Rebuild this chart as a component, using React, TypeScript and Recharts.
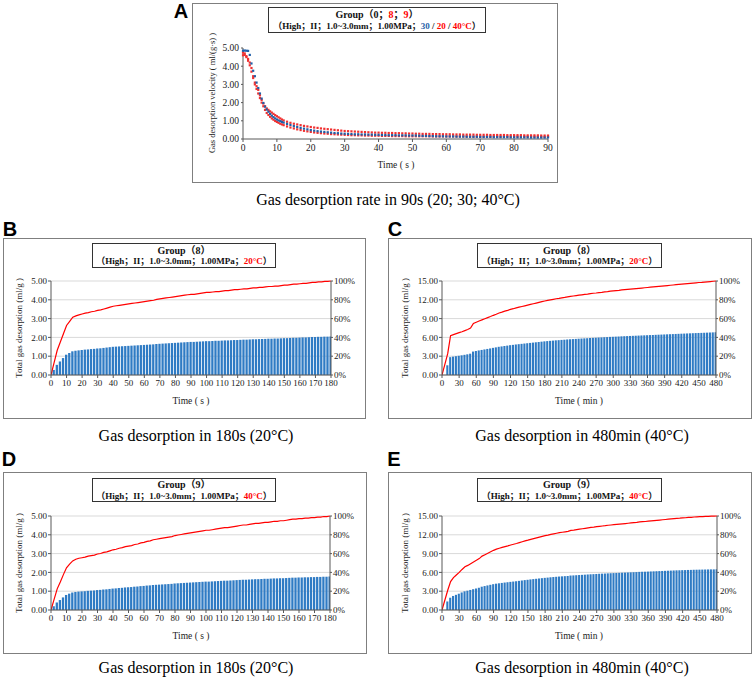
import React from 'react';
import { ComposedChart, Bar, Line, XAxis, YAxis, CartesianGrid, ScatterChart, Scatter } from 'recharts';

const SERIF = '"Liberation Serif", "Times New Roman", "Noto Sans CJK SC", serif';
const SANS = '"Liberation Sans", Arial, sans-serif';

// ---------- Panel A : desorption velocity (ml/(g·s)) ----------
const timeA = [0, 0.5, 1, 1.5, 2, 2.5, 3, 3.5, 4, 4.5, 5, 5.5, 6, 6.5, 7, 7.5, 8, 8.5, 9, 9.5, 10, 10.5, 11, 11.5, 12,
  13, 14, 15, 16, 17, 18, 19, 20, 21, 22, 23, 24, 25, 26, 27, 28, 29, 30, 31, 32, 33, 34, 35, 36, 37, 38, 39, 40,
  41, 42, 43, 44, 45, 46, 47, 48, 49, 50, 51, 52, 53, 54, 55, 56, 57, 58, 59, 60, 61, 62, 63, 64, 65, 66, 67, 68,
  69, 70, 71, 72, 73, 74, 75, 76, 77, 78, 79, 80, 81, 82, 83, 84, 85, 86, 87, 88, 89, 90];
const velocity30 = [4.85, 4.86, 4.85, 4.84, 4.62, 4.15, 3.75, 3.45, 3.1, 2.8, 2.5, 2.22, 1.98, 1.78, 1.62, 1.5, 1.38, 1.28, 1.2, 1.13, 1.07, 1.02, 0.98, 0.94, 0.9,
  0.83, 0.77, 0.71, 0.66, 0.61, 0.57, 0.53, 0.49, 0.46, 0.43,
  0.41, 0.39, 0.37, 0.35, 0.33, 0.32, 0.3, 0.29, 0.28, 0.27,
  0.26, 0.26, 0.25, 0.25, 0.24, 0.24, 0.23, 0.23, 0.22, 0.22,
  0.21, 0.21, 0.21, 0.2, 0.2, 0.2, 0.19, 0.19, 0.19, 0.18,
  0.17, 0.17, 0.16, 0.16, 0.15, 0.15, 0.15, 0.14, 0.14, 0.14,
  0.13, 0.13, 0.13, 0.12, 0.12, 0.12, 0.12, 0.11, 0.11, 0.11,
  0.11, 0.1, 0.1, 0.1, 0.1, 0.1, 0.09, 0.09, 0.09, 0.09,
  0.09, 0.09, 0.08, 0.08, 0.08, 0.08, 0.08, 0.08];
const velocity20 = [4.75, 4.7, 4.55, 4.4, 4.2, 3.9, 3.45, 3.1, 2.9, 2.7, 2.4, 2.15, 1.95, 1.8, 1.68, 1.6, 1.52, 1.45, 1.38, 1.31, 1.25, 1.19, 1.13, 1.07, 1.02,
  0.95, 0.89, 0.84, 0.8, 0.76, 0.72, 0.69, 0.66, 0.63, 0.61,
  0.58, 0.56, 0.54, 0.52, 0.5, 0.48, 0.46, 0.44, 0.43, 0.42,
  0.41, 0.4, 0.39, 0.38, 0.37, 0.36, 0.35, 0.35, 0.34, 0.34,
  0.33, 0.33, 0.32, 0.32, 0.31, 0.31, 0.3, 0.3, 0.29, 0.29,
  0.28, 0.28, 0.28, 0.27, 0.27, 0.27, 0.26, 0.26, 0.26, 0.25,
  0.25, 0.25, 0.24, 0.24, 0.24, 0.24, 0.23, 0.23, 0.23, 0.23,
  0.22, 0.22, 0.22, 0.22, 0.22, 0.21, 0.21, 0.21, 0.21, 0.21,
  0.2, 0.2, 0.2, 0.2, 0.2, 0.19, 0.19, 0.19];
const velocity40 = [4.6, 4.62, 4.5, 4.3, 4.05, 3.7, 3.35, 3.0, 2.75, 2.5, 2.25, 2.0, 1.8, 1.6, 1.43, 1.32, 1.22, 1.13, 1.06, 0.99, 0.94, 0.89, 0.84, 0.8, 0.76,
  0.69, 0.63, 0.58, 0.53, 0.49, 0.45, 0.42, 0.39, 0.36, 0.34,
  0.32, 0.3, 0.29, 0.27, 0.26, 0.25, 0.24, 0.23, 0.22, 0.21,
  0.21, 0.2, 0.2, 0.19, 0.19, 0.18, 0.18, 0.18, 0.17, 0.17,
  0.17, 0.16, 0.16, 0.16, 0.16, 0.15, 0.15, 0.15, 0.15, 0.15,
  0.15, 0.15, 0.15, 0.14, 0.14, 0.14, 0.14, 0.14, 0.14, 0.14,
  0.14, 0.14, 0.14, 0.14, 0.14, 0.13, 0.13, 0.13, 0.13, 0.13,
  0.13, 0.13, 0.13, 0.13, 0.13, 0.13, 0.13, 0.13, 0.13, 0.13,
  0.13, 0.13, 0.13, 0.13, 0.12, 0.12, 0.12, 0.12];
const ticksA = [0, 10, 20, 30, 40, 50, 60, 70, 80, 90];
const velTicks = [0, 1, 2, 3, 4, 5];

// ---------- Panels B/D : 180 s ----------
const timeSec = [2, 4, 6, 8, 10, 12, 14, 16, 18, 20, 22, 24, 26, 28, 30, 32, 34, 36, 38, 40, 42, 44, 46, 48, 50, 52, 54, 56, 58, 60,
  62, 64, 66, 68, 70, 72, 74, 76, 78, 80, 82, 84, 86, 88, 90, 92, 94, 96, 98, 100, 102, 104, 106, 108, 110, 112, 114, 116, 118, 120,
  122, 124, 126, 128, 130, 132, 134, 136, 138, 140, 142, 144, 146, 148, 150, 152, 154, 156, 158, 160, 162, 164, 166, 168, 170, 172, 174, 176, 178, 180];
const totalB = [0.27, 0.54, 0.72, 0.9, 1.08, 1.17, 1.26, 1.29, 1.31, 1.33,
  1.35, 1.36, 1.38, 1.39, 1.41, 1.42, 1.44, 1.46, 1.48, 1.5,
  1.51, 1.52, 1.53, 1.54, 1.55, 1.56, 1.57, 1.58, 1.59, 1.6,
  1.61, 1.62, 1.63, 1.65, 1.66, 1.67, 1.68, 1.69, 1.7, 1.71,
  1.72, 1.73, 1.74, 1.75, 1.76, 1.76, 1.77, 1.78, 1.79, 1.8,
  1.8, 1.81, 1.82, 1.82, 1.83, 1.84, 1.84, 1.85, 1.86, 1.86,
  1.87, 1.88, 1.88, 1.89, 1.9, 1.9, 1.91, 1.91, 1.92, 1.93,
  1.93, 1.94, 1.94, 1.95, 1.96, 1.96, 1.97, 1.98, 1.98, 1.99,
  2.0, 2.0, 2.01, 2.02, 2.02, 2.03, 2.03, 2.04, 2.04, 2.05];
const totalD = [0.2, 0.4, 0.53, 0.67, 0.8, 0.87, 0.93, 0.96, 0.98, 0.99,
  1.0, 1.02, 1.03, 1.04, 1.06, 1.07, 1.09, 1.1, 1.12, 1.14,
  1.15, 1.17, 1.18, 1.2, 1.21, 1.22, 1.24, 1.25, 1.27, 1.28,
  1.3, 1.31, 1.33, 1.34, 1.35, 1.36, 1.37, 1.38, 1.39, 1.41,
  1.42, 1.43, 1.44, 1.45, 1.46, 1.47, 1.48, 1.49, 1.5, 1.51,
  1.51, 1.52, 1.53, 1.54, 1.55, 1.56, 1.56, 1.57, 1.58, 1.59,
  1.6, 1.61, 1.61, 1.62, 1.63, 1.64, 1.64, 1.65, 1.66, 1.66,
  1.67, 1.68, 1.68, 1.69, 1.69, 1.7, 1.71, 1.72, 1.72, 1.73,
  1.73, 1.74, 1.74, 1.75, 1.75, 1.76, 1.76, 1.77, 1.77, 1.78];
const ticksSec = [0, 10, 20, 30, 40, 50, 60, 70, 80, 90, 100, 110, 120, 130, 140, 150, 160, 170, 180];
const ticks5 = [0, 1, 2, 3, 4, 5];

// ---------- Panels C/E : 480 min ----------
const timeMin = [10, 15, 20, 25, 30, 35, 40, 45, 50, 55, 60, 65, 70, 75, 80, 85, 90, 95, 100, 105,
  110, 115, 120, 125, 130, 135, 140, 145, 150, 155, 160, 165, 170, 175, 180, 185, 190, 195, 200, 205,
  210, 215, 220, 225, 230, 235, 240, 245, 250, 255, 260, 265, 270, 275, 280, 285, 290, 295, 300, 305,
  310, 315, 320, 325, 330, 335, 340, 345, 350, 355, 360, 365, 370, 375, 380, 385, 390, 395, 400, 405,
  410, 415, 420, 425, 430, 435, 440, 445, 450, 455, 460, 465, 470, 475, 480];
const totalC = [1.55, 2.85, 2.93, 3.0, 3.07, 3.14, 3.22, 3.3, 3.4, 3.74,
  3.83, 3.92, 4.0, 4.08, 4.16, 4.24, 4.33, 4.41, 4.5, 4.56,
  4.63, 4.69, 4.76, 4.81, 4.87, 4.92, 4.97, 5.02, 5.07, 5.12,
  5.17, 5.22, 5.27, 5.32, 5.37, 5.41, 5.45, 5.49, 5.53, 5.56,
  5.6, 5.63, 5.67, 5.7, 5.73, 5.76, 5.79, 5.82, 5.85, 5.87,
  5.9, 5.93, 5.95, 5.98, 6.0, 6.03, 6.05, 6.08, 6.1, 6.12,
  6.14, 6.17, 6.19, 6.21, 6.23, 6.25, 6.27, 6.29, 6.31, 6.33,
  6.35, 6.37, 6.39, 6.41, 6.43, 6.45, 6.47, 6.49, 6.51, 6.53,
  6.55, 6.57, 6.59, 6.61, 6.63, 6.65, 6.67, 6.69, 6.71, 6.72,
  6.74, 6.76, 6.78, 6.8, 6.82];
const totalE = [1.36, 1.96, 2.24, 2.42, 2.6, 2.8, 2.98, 3.08, 3.2, 3.32,
  3.43, 3.55, 3.72, 3.82, 3.92, 4.02, 4.12, 4.2, 4.26, 4.32,
  4.38, 4.43, 4.49, 4.54, 4.59, 4.65, 4.71, 4.77, 4.82, 4.88,
  4.93, 4.98, 5.03, 5.08, 5.13, 5.17, 5.22, 5.26, 5.3, 5.34,
  5.37, 5.4, 5.43, 5.5, 5.52, 5.55, 5.58, 5.61, 5.64, 5.67,
  5.7, 5.72, 5.75, 5.78, 5.8, 5.82, 5.85, 5.87, 5.89, 5.91,
  5.93, 5.95, 5.97, 5.99, 6.01, 6.03, 6.05, 6.08, 6.1, 6.11,
  6.13, 6.15, 6.17, 6.19, 6.21, 6.23, 6.25, 6.27, 6.29, 6.31,
  6.33, 6.34, 6.36, 6.37, 6.39, 6.4, 6.42, 6.43, 6.44, 6.45,
  6.46, 6.47, 6.48, 6.48, 6.49];
const ticksMin = [0, 30, 60, 90, 120, 150, 180, 210, 240, 270, 300, 330, 360, 390, 420, 450, 480];
const ticks15 = [0, 3, 6, 9, 12, 15];
const pctTicks = [0, 20, 40, 60, 80, 100];

const BLUE = '#1f5fa8';
const RED = '#ff0000';
const AXIS = { stroke: '#595959', strokeWidth: 1 };
const tickFont = { fontSize: 9, fill: '#1a1a1a', fontFamily: SERIF };

type TxtProps = { x: number; y: number; size?: number; bold?: boolean; rot?: number; family?: string; color?: string; children: React.ReactNode };
const Txt = ({ x, y, size = 9, bold = false, rot = 0, family = SERIF, color = '#222', children }: TxtProps) => (
  <div style={{ position: 'absolute', left: x, top: y, transform: `translate(-50%,-50%) rotate(${rot}deg)`, fontSize: size, fontWeight: bold ? 700 : 400, fontFamily: family, color, whiteSpace: 'nowrap', lineHeight: 1 }}>{children}</div>
);

const Frame = ({ l, t, r, b }: { l: number; t: number; r: number; b: number }) => (
  <div style={{ position: 'absolute', left: l, top: t, width: r - l, height: b - t, border: '1.3px solid #7f7f7f', boxSizing: 'border-box' }} />
);

const LegendBox = ({ l, t, r, b, line1, line2, s1 = 10 }: { l: number; t: number; r: number; b: number; line1: React.ReactNode; line2: React.ReactNode; s1?: number }) => (
  <div style={{ position: 'absolute', left: l, top: t, width: r - l, height: b - t, border: '1.3px solid #333', boxSizing: 'border-box', background: '#fff', display: 'flex', flexDirection: 'column', alignItems: 'center', justifyContent: 'center', fontFamily: SERIF, fontWeight: 700, color: '#111', lineHeight: 1.15 }}>
    <div style={{ fontSize: s1 }}>{line1}</div>
    <div style={{ fontSize: 9 }}>{line2}</div>
  </div>
);

const R = ({ children }: { children: React.ReactNode }) => <span style={{ color: RED }}>{children}</span>;
const B = ({ children }: { children: React.ReactNode }) => <span style={{ color: BLUE }}>{children}</span>;

type PanelProps = { px: number; py: number; pw: number; ph: number; times: number[]; values: number[]; xMax: number; xTicks: number[]; yMax: number; yTicks: number[]; barSize: number };

function GasPanel({ px, py, pw, ph, times, values, xMax, xTicks, yMax, yTicks, barSize }: PanelProps) {
  const last = values[values.length - 1];
  const data = [{ t: 0, v: 0, pct: 0 }, ...times.map((t, i) => ({ t, v: values[i], pct: (values[i] / last) * 100 }))];
  const wl = 46, wr = 34, mt = 8, xh = 24, mr = 4;
  return (
    <div style={{ position: 'absolute', left: px - wl, top: py - mt }}>
      <ComposedChart width={wl + pw + wr + mr} height={mt + ph + xh} data={data} margin={{ top: mt, right: mr, bottom: 0, left: 0 }}>
        <CartesianGrid yAxisId="l" vertical={false} stroke="#d9d9d9" />
        <XAxis dataKey="t" type="number" domain={[0, xMax]} ticks={xTicks} interval={0} height={xh} tickSize={3} tickMargin={2} tick={tickFont} axisLine={AXIS} tickLine={AXIS} allowDataOverflow />
        <YAxis yAxisId="l" type="number" domain={[0, yMax]} ticks={yTicks} interval={0} width={wl} tickSize={3} tickMargin={1} tick={tickFont} axisLine={AXIS} tickLine={AXIS} tickFormatter={(v: number) => v.toFixed(2)} />
        <YAxis yAxisId="r" orientation="right" type="number" domain={[0, 100]} ticks={pctTicks} interval={0} width={wr} tickSize={2} tickMargin={1} tick={tickFont} axisLine={AXIS} tickLine={AXIS} tickFormatter={(v: number) => `${v}%`} />
        <Bar yAxisId="l" dataKey="v" fill="#2f7bc4" barSize={barSize} isAnimationActive={false} />
        <Line yAxisId="r" dataKey="pct" type="linear" stroke={RED} strokeWidth={1.2} dot={false} activeDot={false} isAnimationActive={false} />
      </ComposedChart>
    </div>
  );
}

const sq = (color: string) => (p: any) => <rect x={p.cx - 1.1} y={p.cy - 1.1} width={2.2} height={2.2} fill={color} />;

function VelocityPanel() {
  const px = 243, py = 48, pw = 305, ph = 91;
  const wl = 38, mt = 6, xh = 22, mr = 8;
  const s30 = timeA.map((t, i) => ({ t, v: velocity30[i] }));
  const s20 = timeA.map((t, i) => ({ t, v: velocity20[i] }));
  const s40 = timeA.map((t, i) => ({ t, v: velocity40[i] }));
  return (
    <div style={{ position: 'absolute', left: px - wl, top: py - mt }}>
      <ScatterChart width={wl + pw + mr} height={mt + ph + xh} margin={{ top: mt, right: mr, bottom: 0, left: 0 }}>
        <XAxis dataKey="t" type="number" domain={[0, 90]} ticks={ticksA} interval={0} height={xh} tickSize={3} tickMargin={2} tick={{ ...tickFont, fontSize: 9.5 }} axisLine={AXIS} tickLine={AXIS} />
        <YAxis dataKey="v" type="number" domain={[0, 5]} ticks={velTicks} interval={0} width={wl} tickSize={2} tickMargin={2} tick={{ ...tickFont, fontSize: 9.5 }} axisLine={AXIS} tickLine={AXIS} tickFormatter={(v: number) => v.toFixed(2)} />
        <Scatter data={s20} shape={sq('#f03030')} isAnimationActive={false} />
        <Scatter data={s40} shape={sq('#f03030')} isAnimationActive={false} />
        <Scatter data={s30} shape={sq(BLUE)} isAnimationActive={false} />
      </ScatterChart>
    </div>
  );
}

const line2Base = '（High；II；1.0~3.0mm；1.00MPa；';

export default function App() {
  return (
    <div style={{ position: 'absolute', left: 0, top: 0, width: 754, height: 678, background: '#fff', overflow: 'hidden' }}>
      {/* Panel A */}
      <Frame l={192} t={3} r={558} b={183} />
      <Txt x={181} y={11} size={20} bold family={SANS} color="#000">A</Txt>
      <VelocityPanel />
      <LegendBox l={268} t={7} r={486} b={33} s1={10}
        line1={<>Group（0；<R>8</R>；<R>9</R>）</>}
        line2={<>{line2Base}<B>30</B> / <R>20</R> / <R>40°C</R>）</>} />
      <Txt x={212} y={93} size={8.5} rot={-90}>Gas desorption velocity ( ml/(g·s) )</Txt>
      <Txt x={396} y={166} size={9.5}>Time ( s )</Txt>
      <Txt x={388} y={200} size={16} color="#000">Gas desorption rate in 90s (20; 30; 40°C)</Txt>

      {/* Panel B */}
      <Frame l={3} t={238} r={366} b={419} />
      <Txt x={10} y={229} size={20} bold family={SANS} color="#000">B</Txt>
      <GasPanel px={51} py={281} pw={280} ph={94} times={timeSec} values={totalB} xMax={180} xTicks={ticksSec} yMax={5} yTicks={ticks5} barSize={2.3} />
      <LegendBox l={92} t={243} r={276} b={268} line1={<>Group（8）</>} line2={<>{line2Base}<R>20°C</R>）</>} />
      <Txt x={19} y={328} size={9} rot={-90}>Total gas desorption (ml/g )</Txt>
      <Txt x={191} y={402} size={9.5}>Time ( s )</Txt>
      <Txt x={196} y={436} size={16} color="#000">Gas desorption in 180s (20°C)</Txt>

      {/* Panel C */}
      <Frame l={388} t={238} r={752} b={419} />
      <Txt x={395} y={229} size={20} bold family={SANS} color="#000">C</Txt>
      <GasPanel px={442} py={281} pw={274} ph={94} times={timeMin} values={totalC} xMax={480} xTicks={ticksMin} yMax={15} yTicks={ticks15} barSize={2.1} />
      <LegendBox l={477} t={243} r={662} b={268} line1={<>Group（8）</>} line2={<>{line2Base}<R>20°C</R>）</>} />
      <Txt x={405} y={328} size={9} rot={-90}>Total gas desorption (ml/g )</Txt>
      <Txt x={579} y={402} size={9.5}>Time ( min )</Txt>
      <Txt x={582} y={436} size={16} color="#000">Gas desorption in 480min (40°C)</Txt>

      {/* Panel D */}
      <Frame l={3} t={472} r={367} b={654} />
      <Txt x={9} y={459} size={20} bold family={SANS} color="#000">D</Txt>
      <GasPanel px={51} py={516} pw={279} ph={94} times={timeSec} values={totalD} xMax={180} xTicks={ticksSec} yMax={5} yTicks={ticks5} barSize={2.3} />
      <LegendBox l={92} t={478} r={276} b={502} line1={<>Group（9）</>} line2={<>{line2Base}<R>40°C</R>）</>} />
      <Txt x={19} y={563} size={9} rot={-90}>Total gas desorption (ml/g )</Txt>
      <Txt x={191} y={637} size={9.5}>Time ( s )</Txt>
      <Txt x={196} y={668} size={16} color="#000">Gas desorption in 180s (20°C)</Txt>

      {/* Panel E */}
      <Frame l={388} t={472} r={752} b={654} />
      <Txt x={394} y={459} size={20} bold family={SANS} color="#000">E</Txt>
      <GasPanel px={442} py={516} pw={275} ph={94} times={timeMin} values={totalE} xMax={480} xTicks={ticksMin} yMax={15} yTicks={ticks15} barSize={2.1} />
      <LegendBox l={477} t={478} r={662} b={502} line1={<>Group（9）</>} line2={<>{line2Base}<R>40°C</R>）</>} />
      <Txt x={405} y={563} size={9} rot={-90}>Total gas desorption (ml/g )</Txt>
      <Txt x={579} y={637} size={9.5}>Time ( min )</Txt>
      <Txt x={582} y={668} size={16} color="#000">Gas desorption in 480min (40°C)</Txt>
    </div>
  );
}
